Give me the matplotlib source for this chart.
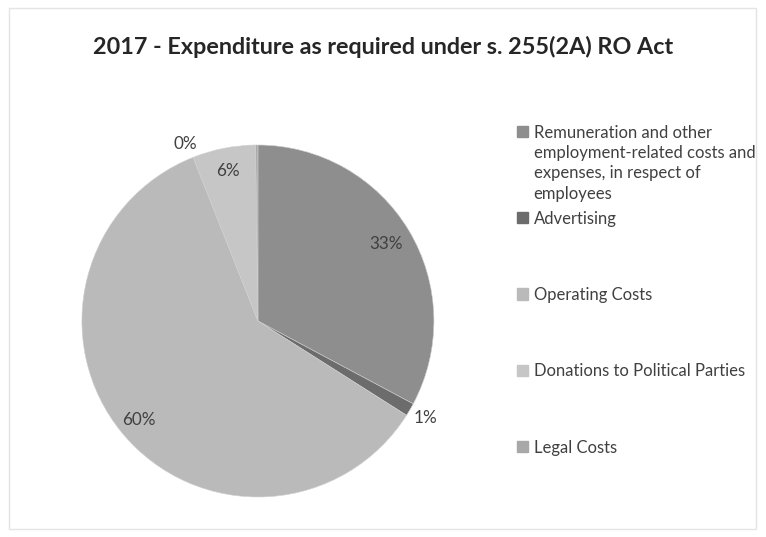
import numpy as np
import matplotlib.pyplot as plt
from matplotlib.patches import Patch, Rectangle

# data
categories = ["Remuneration and other", "Advertising", "Operating Costs",
              "Donations to Political Parties", "Legal Costs"]
first_label_rest = ["employment-related costs and", "expenses, in respect of", "employees"]
values = [32.8, 1.2, 60.0, 5.8, 0.2]
pct_labels = ["33%", "1%", "60%", "6%", "0%"]
colors = ["#8e8e8e", "#6c6c6c", "#bababa", "#c6c6c6", "#a8a8a8"]
label_radius = [0.85, 1.10, 0.88, 0.87, 1.09]
label_shift = [0, 0, 0, 0, 22]  # degrees, best-fit nudge

plt.rcParams['font.family'] = ['Lato', 'DejaVu Sans']
fig = plt.figure(figsize=(7.66, 5.37), dpi=100)
fig.patch.set_facecolor("white")

# chart frame
fig.add_artist(Rectangle((0.012, 0.015), 0.975, 0.97, transform=fig.transFigure,
                         fill=False, edgecolor="#e4e4e4", lw=1))

fig.text(0.5, 0.912, "2017 - Expenditure as required under s. 255(2A) RO Act",
         ha="center", va="center", fontsize=16.8, fontweight="bold", color="#262626")

ax = fig.add_axes([0.1057, 0.0745, 0.462, 0.6555])
wedges, _ = ax.pie(values, colors=colors, startangle=90, counterclock=False,
                   wedgeprops=dict(linewidth=0.4, edgecolor="#d0d0d0"))
ax.set_xlim(-1, 1)
ax.set_ylim(-1, 1)
ax.set_aspect("equal")

for w, lab, r, s in zip(wedges, pct_labels, label_radius, label_shift):
    ang = np.deg2rad((w.theta1 + w.theta2) / 2 + s)
    ax.text(r * np.cos(ang), r * np.sin(ang), lab, ha="center", va="center",
            fontsize=12.3, color="#404040")

# legend (first entry split so the marker sits on its first line)
h = [Patch(facecolor=c, edgecolor=c) for c in colors]
kw = dict(loc="upper left", frameon=False, fontsize=12, handlelength=0.65,
          handleheight=0.65, handletextpad=0.35, labelcolor="#404040",
          borderaxespad=0, borderpad=0)
leg1 = fig.legend(h[:1], categories[:1], bbox_to_anchor=(0.675, 0.768), **kw)
leg2 = fig.legend(h[1:], categories[1:], bbox_to_anchor=(0.675, 0.608),
                  labelspacing=3.62, **kw)
fig.canvas.draw()
bb = leg1.get_texts()[0].get_window_extent().transformed(fig.transFigure.inverted())
for i, line in enumerate(first_label_rest):
    fig.text(bb.x0, bb.y0 - (i + 1) * 0.038, line, ha="left", va="bottom",
             fontsize=12, color="#404040")

plt.savefig("out.png", dpi=100)
